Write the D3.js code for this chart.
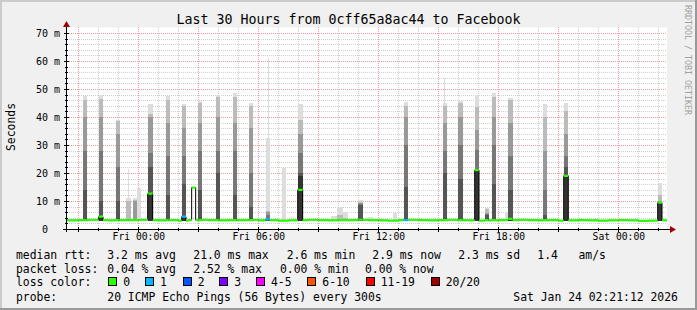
<!DOCTYPE html>
<html>
<head>
<meta charset="utf-8">
<script src="https://cdn.jsdelivr.net/npm/d3@7"></script>
<style>
html, body { margin: 0; padding: 0; background: #f0f0f0; }
svg { display: block; }
text { font-family: "DejaVu Sans Mono", monospace; white-space: pre; fill: #000; }
</style>
</head>
<body>
<svg id="chart" width="697" height="310"></svg>
<script>
// ---- data ----
const titleText = "Last 30 Hours from 0cff65a8ac44 to Facebook";
const rangeStart = "2026-01-22 20:26";
const rangeEnd = "2026-01-24 02:26";
const yMax = 72;
const yTicks = [0, 10, 20, 30, 40, 50, 60, 70];

// median rtt (ms) at 30 minute steps, from baseStart
const baseStart = "2026-01-22 20:00";
const baseMedian = [3.2, 3.1, 3.2, 3.3, 3.2, 3.1, 3.2, 3.2, 3.3, 3.2, 3.1, 3.2, 3.0, 3.2, 3.3, 3.2,
  3.1, 3.2, 3.2, 3.3, 3.1, 3.2, 3.0, 3.1, 3.2, 3.3, 3.2, 3.1, 3.2, 3.2, 3.3, 3.2,
  3.1, 3.0, 3.2, 3.3, 3.2, 3.1, 3.2, 3.3, 3.2, 3.1, 3.0, 3.1, 3.2, 3.2, 3.3, 3.2,
  3.1, 3.2, 3.0, 3.1, 3.2, 3.1, 3.0, 3.1, 3.2, 3.1, 2.9, 3.0, 3.1, 3.0];

// smoke spikes: start, length in minutes, median (null = no change), loss bucket, ping band tops (ms)
const spikeTimes = ["2026-01-22 21:13", "2026-01-22 22:01", "2026-01-22 22:52", "2026-01-22 23:24", "2026-01-22 23:28",
  "2026-01-22 23:43", "2026-01-22 23:57", "2026-01-23 00:28", "2026-01-23 01:22", "2026-01-23 02:10",
  "2026-01-23 02:40", "2026-01-23 02:59", "2026-01-23 03:52", "2026-01-23 04:43", "2026-01-23 05:31",
  "2026-01-23 06:22", "2026-01-23 06:28", "2026-01-23 07:11", "2026-01-23 07:58", "2026-01-23 09:37",
  "2026-01-23 09:55", "2026-01-23 10:13", "2026-01-23 10:58", "2026-01-23 11:25", "2026-01-23 12:43",
  "2026-01-23 13:16", "2026-01-23 15:13", "2026-01-23 15:16", "2026-01-23 15:58", "2026-01-23 16:49",
  "2026-01-23 17:19", "2026-01-23 17:40", "2026-01-23 18:19", "2026-01-23 18:29", "2026-01-23 20:13",
  "2026-01-23 21:16", "2026-01-24 01:58"];
const spikeMinutes = [12, 13, 12, 15, 3, 12, 11, 15, 13, 13, 12, 13, 12, 12, 13, 13, 3, 11, 15, 18, 18, 15, 15, 18, 12,
  14, 13, 3, 15, 13, 12, 13, 9, 14, 13, 14, 13];
const spikeMedian = [3.2, 4.4, 3.2, null, null, null, null, 12.6, 3.2, 4.4, 14.8, 3.2, 3.2, 3.2, 3.2,
  3.5, null, null, 14.0, null, null, null, 3.3, null, null, 3.2, 3.2, null, 3.2, 21.0,
  3.2, 3.2, null, 3.6, 3.2, 19.0, 9.4];
const spikeLoss = [0, 0, 0, 0, 0, 0, 0, 0, 0, 1, 0, 0, 0, 0, 0, 1, 0, 0, 0, 0, 0, 0, 0, 0, 0,
  1, 0, 0, 0, 0, 0, 0, 0, 0, 0, 0, 0];
const spikeSmoke = [
  [47.5, 46, 40, 28, 14, 3], [48, 46.5, 40, 28, 10, 4.4], [39, 38.5, 34, 22, 10, 3], [11, 10], [21.5],
  [11, 10.5, 10], [14.6], [44.6, 41, 40, 27, 22, 13], [47.5, 46, 38, 26, 12, 3], [44.6, 44, 36, 26, 16, 4.4],
  [], [45.7, 45, 38, 28, 14, 3], [47.9, 47, 40, 28, 20, 3], [48.7, 47, 38, 28, 12, 3], [45, 44, 36, 20, 8, 3],
  [32.5, 6.5, 6, 5, 4, 3], [61], [21.8], [44.6, 39, 34, 27, 20, 19], [4.5],
  [8, 5], [6, 4], [10.2, 9.8, 9.4, 9, 8.5, 3], [4.4], [5.7],
  [45.5, 44, 40, 30, 15, 3], [45, 44, 38, 28, 20, 3], [53.8], [45.7, 45, 40, 30, 18, 3], [47.9, 43.7, 35.4, 28.2, 21, 21],
  [7.5, 7, 5.8, 5.5, 5, 3], [48.7, 47, 40, 30, 16, 3], [6.2], [46.9, 46, 38, 26, 14, 3.6], [44.5, 40, 28, 14, 5, 3],
  [45, 42, 34, 26, 22, 19], [16.5, 12, 10, 9.7, 9.7, 9.7]];
const smokeFloor = 2.8;

const rttValues = [3.2, 21.0, 2.6, 2.9, 2.3];
const rttNames = ["avg", "max", "min", "now", "sd"];
const amsValue = 1.4;
const lossValues = [0.04, 2.52, 0.00, 0.00];
const lossNames = ["avg", "max", "min", "now"];
const lossLabels = ["0", "1", "2", "3", "4-5", "6-10", "11-19", "20/20"];
const lossColors = ["#26ff00", "#00b8ff", "#0059ff", "#7e00ff", "#ff00ff", "#ff5500", "#ff0000", "#a10000"];
const probeText = "20 ICMP Echo Pings (56 Bytes) every 300s";
const stampText = "Sat Jan 24 02:21:12 2026";

// ---- drawing ----
const W = 697, H = 310;
const plot = { left: 67, right: 667, top: 27.4, bottom: 229 };
const bandColors = ["#dddddd", "#bbbbbb", "#999999", "#777777", "#555555", "#333333"];

const parseT = d3.utcParse("%Y-%m-%d %H:%M");
const t0 = parseT(rangeStart), t1 = parseT(rangeEnd);

const x = d3.scaleUtc().domain([t0, t1]).range([plot.left, plot.right]);
const y = d3.scaleLinear().domain([0, yMax]).range([plot.bottom, plot.top]);

const svg = d3.select("#chart");

// frame
svg.append("rect").attr("width", W).attr("height", H).attr("fill", "#f0f0f0");
svg.append("path").attr("d", `M1,${H} V1 H${W}`).attr("stroke", "#cbcbcb").attr("stroke-width", 2).attr("fill", "none");
svg.append("path").attr("d", `M0,${H - 1} H${W - 1} V0`).attr("stroke", "#999").attr("stroke-width", 2).attr("fill", "none");

svg.append("rect")
  .attr("x", plot.left).attr("y", plot.top)
  .attr("width", plot.right - plot.left).attr("height", plot.bottom - plot.top)
  .attr("fill", "#fff");

svg.append("clipPath").attr("id", "clip").append("rect")
  .attr("x", plot.left).attr("y", plot.top)
  .attr("width", plot.right - plot.left).attr("height", plot.bottom - plot.top);

// grid: grey every 2 ms / 1 h, red every 10 ms / 3 h
const hours = d3.utcHour.range(t0, t1);
const gridH = d3.range(2, yMax, 2).map(v => ({ v, major: v % 10 === 0 }));
const gridV = hours.map(d => ({ d, major: d.getUTCHours() % 3 === 0 }));
const gridG = svg.append("g").attr("shape-rendering", "crispEdges");

// grey ones first, red ones on top
[false, true].forEach(isMajor => {
  gridG.append("g").selectAll("line").data(gridH.filter(g => g.major === isMajor)).join("line")
    .attr("x1", plot.left).attr("x2", plot.right)
    .attr("y1", g => Math.round(y(g.v)) + 0.5).attr("y2", g => Math.round(y(g.v)) + 0.5)
    .attr("stroke", isMajor ? "#f59a9a" : "#cfcfcf").attr("stroke-dasharray", "1,1");
  gridG.append("g").selectAll("line").data(gridV.filter(g => g.major === isMajor)).join("line")
    .attr("x1", g => Math.round(x(g.d)) + 0.5).attr("x2", g => Math.round(x(g.d)) + 0.5)
    .attr("y1", plot.top).attr("y2", plot.bottom)
    .attr("stroke", isMajor ? "#f59a9a" : "#cfcfcf").attr("stroke-dasharray", "1,1");
});

// spikes
const spikes = spikeTimes.map((s, i) => {
  const a = parseT(s);
  return { a, b: d3.utcMinute.offset(a, spikeMinutes[i]), med: spikeMedian[i], loss: spikeLoss[i], smoke: spikeSmoke[i] };
});

// smoke, one band level at a time so darker bands sit on top
const smoke = svg.append("g").attr("clip-path", "url(#clip)").attr("shape-rendering", "crispEdges");
bandColors.forEach((c, k) => {
  smoke.append("g").selectAll("rect")
    .data(spikes.filter(d => d.smoke.length > k && d.smoke[k] > smokeFloor))
    .join("rect")
    .attr("x", d => x(d.a))
    .attr("width", d => Math.max(1, x(d.b) - x(d.a)))
    .attr("y", d => y(d.smoke[k]))
    .attr("height", d => y(smokeFloor) - y(d.smoke[k]))
    .attr("fill", c);
});

// median series: base steps with spike medians cut in
const baseSteps = baseMedian.map((v, i) => {
  const a = d3.utcMinute.offset(parseT(baseStart), i * 30);
  return { a, b: d3.utcMinute.offset(a, 30), v };
});
const medSpikes = spikes.filter(d => d.med != null);
const cuts = Array.from(new Set([
  ...baseSteps.flatMap(d => [+d.a, +d.b]),
  ...medSpikes.flatMap(d => [+d.a, +d.b])
])).sort((p, q) => p - q);

const segs = [];
for (let i = 0; i < cuts.length - 1; i++) {
  const a = cuts[i], b = cuts[i + 1], m = (a + b) / 2;
  const sp = medSpikes.find(d => m >= +d.a && m < +d.b);
  if (sp) { segs.push({ a, b, v: sp.med, loss: sp.loss }); continue; }
  const bs = baseSteps.find(d => m >= +d.a && m < +d.b);
  if (bs) segs.push({ a, b, v: bs.v, loss: 0 });
}

const medG = svg.append("g").attr("clip-path", "url(#clip)");
let pathD = "";
segs.forEach((s, i) => {
  pathD += (i === 0 ? `M${x(s.a)},${y(s.v)}` : `V${y(s.v)}`) + `H${x(s.b)}`;
});
medG.append("path").attr("d", pathD).attr("fill", "none").attr("stroke", "#000").attr("stroke-width", 1);
medG.selectAll("line").data(segs).join("line")
  .attr("x1", d => x(d.a)).attr("x2", d => x(d.b))
  .attr("y1", d => y(d.v)).attr("y2", d => y(d.v))
  .attr("stroke", d => lossColors[d.loss]).attr("stroke-width", 2.2);

// axes lines, ticks and arrows
const ax = svg.append("g").attr("shape-rendering", "crispEdges");
ax.append("line").attr("x1", 66.5).attr("x2", 66.5).attr("y1", 232).attr("y2", 25).attr("stroke", "#000");
ax.append("line").attr("x1", 63).attr("x2", 671).attr("y1", 229.5).attr("y2", 229.5).attr("stroke", "#000");
ax.append("g").selectAll("line").data(gridH).join("line")
  .attr("x1", g => g.major ? 64 : 65).attr("x2", g => g.major ? 69 : 68)
  .attr("y1", g => Math.round(y(g.v)) + 0.5).attr("y2", g => Math.round(y(g.v)) + 0.5)
  .attr("stroke", "#000");
ax.append("g").selectAll("line").data(gridV).join("line")
  .attr("x1", g => Math.round(x(g.d)) + 0.5).attr("x2", g => Math.round(x(g.d)) + 0.5)
  .attr("y1", g => g.major ? 227 : 228).attr("y2", g => g.major ? 232 : 231)
  .attr("stroke", "#000");
svg.append("path").attr("d", "M63,27 L70,27 L66.5,21 Z").attr("fill", "#a00000");
svg.append("path").attr("d", "M670,226 L670,233 L676,229.5 Z").attr("fill", "#a00000");

// y labels
const yAxis = svg.append("g").attr("transform", `translate(${plot.left},0)`)
  .call(d3.axisLeft(y).tickValues(yTicks).tickSize(0).tickPadding(7)
    .tickFormat(v => v === 0 ? "0" : `${v} m`));
yAxis.select(".domain").remove();
yAxis.selectAll("text").attr("font-family", "DejaVu Sans Mono").attr("font-size", 10)
  .attr("dx", v => v === 0 ? -12 : 0);

// x labels
const labelTimes = hours.filter(d => d.getUTCHours() % 6 === 0);
const xAxis = svg.append("g").attr("transform", `translate(0,${plot.bottom})`)
  .call(d3.axisBottom(x).tickValues(labelTimes).tickSize(0).tickPadding(4)
    .tickFormat(d3.utcFormat("%a %H:%M")));
xAxis.select(".domain").remove();
xAxis.selectAll("text").attr("font-family", "DejaVu Sans Mono").attr("font-size", 9.7);

// title, unit, watermark
svg.append("text").attr("x", 348.5).attr("y", 24).attr("text-anchor", "middle")
  .attr("font-size", 13.3).text(titleText);
svg.append("text").attr("transform", "translate(15,127) rotate(-90)").attr("text-anchor", "middle")
  .attr("font-size", 11.4).text("Seconds");
svg.append("text").attr("transform", "translate(685,5) rotate(90)")
  .attr("font-size", 8.3).style("fill", "#a0a0a0").text("RRDTOOL / TOBI OETIKER");

// legend
const lg = svg.append("g").attr("font-size", 11.4);
const rows = [258.5, 272.5, 286, 300.5];
const rttX = [107.3, 193.3, 286.7, 372.3, 458.3];
const lossX = [107.3, 193.3, 280, 365];

lg.append("text").attr("x", 16).attr("y", rows[0]).text("median rtt:");
lg.selectAll(".rtt").data(rttValues).join("text")
  .attr("x", (d, i) => rttX[i]).attr("y", rows[0])
  .text((d, i) => `${d.toFixed(1)} ms ${rttNames[i]}`);
lg.append("text").attr("x", 537.3).attr("y", rows[0]).text(`${amsValue.toFixed(1)}   am/s`);

lg.append("text").attr("x", 16).attr("y", rows[1]).text("packet loss:");
lg.selectAll(".loss").data(lossValues).join("text")
  .attr("x", (d, i) => lossX[i]).attr("y", rows[1])
  .text((d, i) => `${d.toFixed(2)} % ${lossNames[i]}`);

lg.append("text").attr("x", 16).attr("y", rows[2]).text("loss color:");
const boxX = [108.3, 145, 182.7, 219.3, 256, 307.3, 365.7, 430.7];
const items = lg.selectAll(".lc").data(lossLabels).join("g");
items.append("rect")
  .attr("x", (d, i) => boxX[i] + 0.5).attr("y", 277.5)
  .attr("width", 8).attr("height", 8)
  .attr("fill", (d, i) => lossColors[i]).attr("stroke", "#000")
  .attr("shape-rendering", "crispEdges");
items.append("text").attr("x", (d, i) => boxX[i] + 15).attr("y", rows[2]).text(d => d);

lg.append("text").attr("x", 16).attr("y", rows[3]).text("probe:");
lg.append("text").attr("x", 107.3).attr("y", rows[3]).text(probeText);
lg.append("text").attr("x", 513.3).attr("y", rows[3]).text(stampText);
</script>
</body>
</html>
